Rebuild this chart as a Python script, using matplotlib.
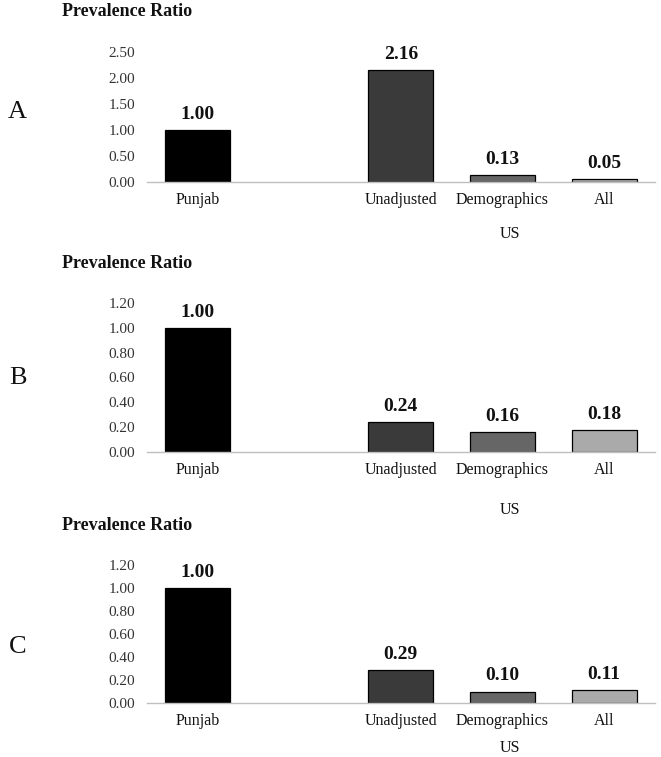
import matplotlib
matplotlib.use("Agg")
import matplotlib.pyplot as plt

plt.rcParams['font.family'] = ['Liberation Serif', 'DejaVu Serif']

categories = ["Punjab", "Unadjusted", "Demographics", "All"]
group_label = "US"
panel_letters = ["A", "B", "C"]
values_A = [1.00, 2.16, 0.13, 0.05]
values_B = [1.00, 0.24, 0.16, 0.18]
values_C = [1.00, 0.29, 0.10, 0.11]
yticks_A = [0.0, 0.5, 1.0, 1.5, 2.0, 2.5]
yticks_BC = [0.0, 0.2, 0.4, 0.6, 0.8, 1.0, 1.2]
ylabel = "Prevalence Ratio"

positions = [0, 2, 3, 4]
colors = ['#000000', '#3a3a3a', '#666666', '#aaaaaa']

W, H = 661, 757
fig = plt.figure(figsize=(W / 100, H / 100), dpi=100)

# (bottom_px, top_px, title_y_px, letter_y_px, us_offset_px)
layout = [
    (182, 52, 12, 112, 52),
    (452, 303, 263, 378, 58),
    (703, 565, 525, 647, 45),
]
datasets = [(values_A, yticks_A), (values_B, yticks_BC), (values_C, yticks_BC)]

left_px, right_px = 146.6, 655

for (vals, yt), (bot, top, ty, ly, usoff), letter in zip(datasets, layout, panel_letters):
    ax = fig.add_axes([left_px / W, (H - bot) / H, (right_px - left_px) / W, (bot - top) / H])
    ax.bar(positions, vals, width=0.64, color=colors, edgecolor='black', linewidth=0.9)
    ax.set_xlim(-0.5, 4.5)
    ax.set_ylim(0, yt[-1])
    ax.set_yticks(yt)
    ax.set_yticklabels([f"{t:.2f}" for t in yt], fontsize=11, color='#333333')
    ax.set_xticks(positions)
    ax.set_xticklabels(categories, fontsize=11.5, color='#111111')
    ax.tick_params(axis='both', length=0)
    ax.tick_params(axis='y', pad=8)
    ax.tick_params(axis='x', pad=7)
    for s in ['top', 'right', 'left']:
        ax.spines[s].set_visible(False)
    ax.spines['bottom'].set_color('#bfbfbf')
    ax.spines['bottom'].set_linewidth(1.0)
    for p, v in zip(positions, vals):
        ax.annotate(f"{v:.2f}", xy=(p, v), xytext=(0, 8), textcoords='offset points',
                    ha='center', va='baseline', fontsize=14, fontweight='bold', color='#111111')
    ax.annotate(group_label, xy=(3.07, 0), xycoords=('data', 'axes fraction'),
                xytext=(0, -usoff * 0.72), textcoords='offset points',
                ha='center', va='center', fontsize=11.5, color='#111111')
    fig.text(62 / W, 1 - ty / H, ylabel, ha='left', va='center', fontsize=13,
             fontweight='bold', color='#111111')
    fig.text(17.5 / W, 1 - ly / H, letter, ha='center', va='center', fontsize=19, color='#111111')

fig.savefig("out.png", dpi=100)
